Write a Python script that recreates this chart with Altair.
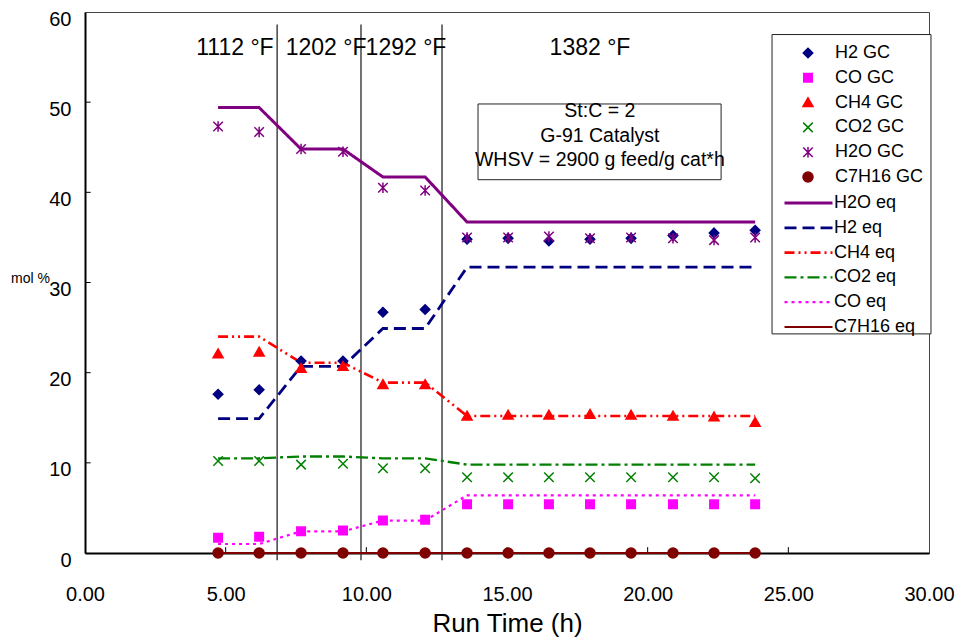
import altair as alt
import pandas as pd

FONT = "Liberation Sans"

# ---- data ----
times = [4.73, 6.19, 7.68, 9.17, 10.59, 12.09, 13.58, 15.04, 16.49, 17.95, 19.41, 20.90, 22.36, 23.82]

h2_gc = [17.6, 18.1, 21.3, 21.3, 26.7, 27.0, 34.8, 34.9, 34.6, 34.8, 34.9, 35.2, 35.5, 35.8]
co_gc = [1.7, 1.8, 2.4, 2.5, 3.6, 3.7, 5.4, 5.4, 5.4, 5.4, 5.4, 5.4, 5.4, 5.4]
ch4_gc = [22.1, 22.3, 20.5, 20.7, 18.7, 18.7, 15.2, 15.3, 15.3, 15.4, 15.3, 15.2, 15.1, 14.5]
co2_gc = [10.2, 10.2, 9.8, 9.9, 9.4, 9.4, 8.4, 8.4, 8.4, 8.4, 8.4, 8.4, 8.4, 8.3]
h2o_gc = [47.3, 46.7, 44.8, 44.5, 40.5, 40.2, 35.0, 35.0, 35.1, 34.9, 35.0, 34.9, 34.7, 35.0]
c7h16_gc = [0.0, 0.0, 0.0, 0.0, 0.0, 0.0, 0.0, 0.0, 0.0, 0.0, 0.0, 0.0, 0.0, 0.0]

h2o_eq = [49.4, 49.4, 44.8, 44.8, 41.7, 41.7, 36.7, 36.7, 36.7, 36.7, 36.7, 36.7, 36.7, 36.7]
h2_eq = [14.9, 14.9, 20.7, 20.7, 24.9, 24.9, 31.7, 31.7, 31.7, 31.7, 31.7, 31.7, 31.7, 31.7]
ch4_eq = [24.0, 24.0, 21.1, 21.1, 18.9, 18.9, 15.2, 15.2, 15.2, 15.2, 15.2, 15.2, 15.2, 15.2]
co2_eq = [10.5, 10.5, 10.7, 10.7, 10.5, 10.5, 9.8, 9.8, 9.8, 9.8, 9.8, 9.8, 9.8, 9.8]
co_eq = [1.0, 1.0, 2.4, 2.4, 3.6, 3.6, 6.4, 6.4, 6.4, 6.4, 6.4, 6.4, 6.4, 6.4]
c7h16_eq = [0.0, 0.0, 0.0, 0.0, 0.0, 0.0, 0.0, 0.0, 0.0, 0.0, 0.0, 0.0, 0.0, 0.0]

gc_names = ["H2 GC", "CO GC", "CH4 GC", "CO2 GC", "H2O GC", "C7H16 GC"]
gc_values = [h2_gc, co_gc, ch4_gc, co2_gc, h2o_gc, c7h16_gc]
gc_colors = ["#000080", "#FF00FF", "#FF0000", "#008000", "#800080", "#800000"]
gc_shapes = [
    "M0,-0.95L0.95,0L0,0.95L-0.95,0Z",
    "M-0.85,-0.85L0.85,-0.85L0.85,0.85L-0.85,0.85Z",
    "M0,-0.95L1,0.8L-1,0.8Z",
    "M-0.95,-0.95L0.95,0.95M-0.95,0.95L0.95,-0.95",
    "M-0.95,-0.95L0.95,0.95M-0.95,0.95L0.95,-0.95M0,-1.05L0,1.05",
    "circle",
]

eq_names = ["H2O eq", "H2 eq", "CH4 eq", "CO2 eq", "CO eq", "C7H16 eq"]
eq_values = [h2o_eq, h2_eq, ch4_eq, co2_eq, co_eq, c7h16_eq]
eq_colors = ["#800080", "#000080", "#FF0000", "#008000", "#FF00FF", "#800000"]
eq_dashes = [[1, 0], [12, 6], [10, 4, 2, 4, 2, 4], [12, 4, 3, 4], [3, 4], [1, 0]]
eq_widths = [3, 2, 2, 2, 2.5, 2.5]

temp_change_times = [6.83, 9.81, 12.69]
temp_labels = ["1112 °F", "1202 °F", "1292 °F", "1382 °F"]
temp_label_x = [5.33, 8.57, 11.41, 17.95]

note_lines = ["St:C = 2", "G-91 Catalyst", "WHSV = 2900 g feed/g cat*h"]
note_y = [49.0, 46.2, 43.6]

x_ticks = [0, 5, 10, 15, 20, 25, 30]
y_ticks = [0, 10, 20, 30, 40, 50, 60]

# ---- tables ----
gc_df = pd.DataFrame(
    [{"t": t, "v": v, "series": n} for n, vals in zip(gc_names, gc_values) for t, v in zip(times, vals)]
)
eq_df = pd.DataFrame(
    [{"t": t, "v": v, "series": n} for n, vals in zip(eq_names, eq_values) for t, v in zip(times, vals)]
)
rules_df = pd.DataFrame({"t": temp_change_times, "y0": [-0.8] * 3, "y1": [58.6] * 3})
temp_df = pd.DataFrame({"t": temp_label_x, "label": temp_labels, "y": [56.0] * 4})
note_df = pd.DataFrame({"label": note_lines, "y": note_y, "t": [18.3] * 3})
note_box = pd.DataFrame({"x0": [13.97], "x1": [22.61], "y0": [41.4], "y1": [49.8]})
legend_box = pd.DataFrame({"x0": [24.42], "x1": [30.07], "y0": [24.3], "y1": [57.5]})
xtick_df = pd.DataFrame({"t": x_ticks[1:-1], "y0": [0] * 5, "y1": [0.65] * 5})
ytick_df = pd.DataFrame({"v": y_ticks[1:-1], "x0": [0] * 5, "x1": [0.2] * 5})

xscale = alt.Scale(domain=[0, 30], nice=False)
yscale = alt.Scale(domain=[0, 60], nice=False)

x_axis = alt.Axis(
    values=x_ticks, format=".2f", labelFontSize=20, ticks=False, grid=False,
    domainColor="black", domainWidth=2, labelPadding=31, labelFlush=False,
    title="Run Time (h)", titleFontSize=26, titleFontWeight="normal", titlePadding=6,
    labelColor="black", titleColor="black",
)
y_axis = alt.Axis(
    values=y_ticks, labelFontSize=20, ticks=False, grid=False, domainColor="black",
    domainWidth=2, labelPadding=14, labelOffset=7, title="mol %", titleAngle=0,
    titleX=-55, titleY=266, titleAlign="center", titleBaseline="middle",
    titleFontSize=14, titleFontWeight="normal", labelColor="black", titleColor="black",
)

X = alt.X("t:Q", scale=xscale, axis=x_axis)
Y = alt.Y("v:Q", scale=yscale, axis=y_axis)

rules = alt.Chart(rules_df).mark_rule(color="#444444", strokeWidth=1.5).encode(
    x=alt.X("t:Q", scale=xscale, axis=x_axis),
    y=alt.Y("y0:Q", scale=yscale, axis=y_axis),
    y2="y1:Q",
)

gc_leg = dict(
    orient="none", legendX=714, legendY=32, title=None, labelFontSize=18, labelFont=FONT,
    symbolSize=100, labelOffset=18, rowPadding=6.8, padding=0, clipHeight=18,
    symbolStrokeWidth=1.5, labelColor="black",
)
eq_leg = dict(
    orient="none", legendX=698, legendY=182, title=None, labelFontSize=18, labelFont=FONT,
    symbolSize=2304, symbolType="stroke", labelOffset=0, rowPadding=6.8, padding=0,
    clipHeight=18, labelColor="black",
)

lines = alt.Chart(eq_df).mark_line().encode(
    x=X, y=Y,
    color=alt.Color("series:N", scale=alt.Scale(domain=eq_names, range=eq_colors),
                    sort=eq_names, legend=alt.Legend(**eq_leg)),
    strokeDash=alt.StrokeDash("series:N", scale=alt.Scale(domain=eq_names, range=eq_dashes),
                              sort=eq_names, legend=alt.Legend(**eq_leg)),
    strokeWidth=alt.StrokeWidth("series:N", scale=alt.Scale(domain=eq_names, range=eq_widths),
                                sort=eq_names, legend=alt.Legend(**eq_leg)),
    order="t:Q",
)

points = alt.Chart(gc_df).mark_point(filled=True, size=100, strokeWidth=1.5, opacity=1).encode(
    x=X, y=Y,
    fill=alt.Fill("series:N", scale=alt.Scale(domain=gc_names, range=gc_colors),
                  sort=gc_names, legend=alt.Legend(**gc_leg)),
    stroke=alt.Stroke("series:N", scale=alt.Scale(domain=gc_names, range=gc_colors),
                      sort=gc_names, legend=alt.Legend(**gc_leg)),
    shape=alt.Shape("series:N", scale=alt.Scale(domain=gc_names, range=gc_shapes),
                    sort=gc_names, legend=alt.Legend(**gc_leg)),
)

note_rect = alt.Chart(note_box).mark_rect(fill="white", stroke="#222222", strokeWidth=1).encode(
    x="x0:Q", x2="x1:Q", y="y0:Q", y2="y1:Q"
)
note_text = alt.Chart(note_df).mark_text(font=FONT, fontSize=19.5, align="center",
                                          baseline="middle", color="black").encode(
    x="t:Q", y="y:Q", text="label:N"
)
temp_text = alt.Chart(temp_df).mark_text(font=FONT, fontSize=23, align="center",
                                          baseline="middle", color="black").encode(
    x="t:Q", y="y:Q", text="label:N"
)
leg_rect = alt.Chart(legend_box).mark_rect(fill="white", stroke="#222222", strokeWidth=1).encode(
    x="x0:Q", x2="x1:Q", y="y0:Q", y2="y1:Q"
)
xticks = alt.Chart(xtick_df).mark_rule(color="black", strokeWidth=1).encode(
    x="t:Q", y="y0:Q", y2="y1:Q"
)
yticks = alt.Chart(ytick_df).mark_rule(color="black", strokeWidth=1).encode(
    y="v:Q", x="x0:Q", x2="x1:Q"
)

chart = alt.layer(
    rules, xticks, yticks, lines, points, note_rect, note_text, temp_text, leg_rect
).properties(
    width=844, height=541,
    autosize=alt.AutoSizeParams(type="none"),
    padding={"left": 85, "top": 12, "right": 35, "bottom": 87},
    background="white",
).configure(font=FONT).configure_view(stroke="#444444", strokeWidth=1)

chart.save("out.html", embed_options={"renderer": "svg", "actions": False})
